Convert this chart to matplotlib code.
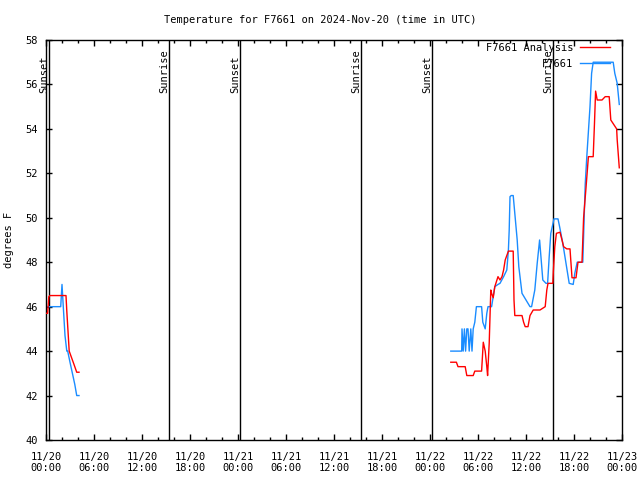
"""Temperature for F7661 on 2024-Nov-20, gnuplot-style plot."""
import matplotlib
matplotlib.use("Agg")
import matplotlib.pyplot as plt
import matplotlib.dates as mdates
import pandas as pd

BASE = pd.Timestamp("2024-11-20 00:00")
RED = "#ff0000"; BLUE = "#1a8cff"

# observations (hours after 11/20 00:00, degrees F)
obs_h_1 = [0.0, 1.84, 2.0, 2.16, 2.375, 2.6, 2.71, 3.0, 3.3, 3.6, 3.84, 4.125]
obs_v_1 = [46.0, 46.0, 47.0, 46.0, 44.7, 44.0, 44.0, 43.5, 43.0, 42.5, 42.0, 42.0]
obs_h_2 = [50.6, 51.96, 52.0, 52.15, 52.3, 52.45, 52.6, 52.75, 52.9, 53.1, 53.25, 53.4,
           53.6, 53.8, 54.45, 54.6, 54.9, 55.1, 55.25, 55.7, 55.9, 56.1, 56.5, 56.75,
           57.2, 57.6, 57.8, 57.9, 58.0, 58.15, 58.4, 58.6, 58.9, 59.1, 59.3, 59.5,
           60.5, 60.7, 61.1, 61.4, 61.7, 62.1, 62.5, 62.7, 62.9, 63.1, 63.5, 64.0,
           64.2, 64.6, 65.0, 65.4, 65.9, 66.1, 66.4, 67.1, 67.4, 67.6, 68.0, 68.2,
           68.4, 70.9, 71.1, 71.4, 71.66]
obs_v_2 = [44.0, 44.0, 45.0, 44.0, 45.0, 44.0, 45.0, 45.0, 44.0, 45.0, 44.0, 45.0,
           45.3, 46.0, 46.0, 45.3, 45.0, 45.7, 46.0, 46.0, 46.45, 46.9, 47.0, 47.05,
           47.35, 47.65, 48.55, 49.45, 50.95, 51.0, 51.0, 50.2, 49.0, 47.8, 47.2, 46.6,
           46.0, 46.0, 46.75, 47.95, 49.0, 47.2, 47.05, 47.05, 48.25, 49.3, 49.95, 49.95,
           49.6, 48.85, 47.95, 47.05, 47.0, 47.5, 48.0, 48.0, 51.5, 52.75, 55.0, 56.5,
           57.0, 57.0, 56.5, 56.05, 55.1]

# analysis
ana_h_1 = [0.0, 0.2, 0.35, 0.5, 2.5, 2.6, 2.8, 2.9, 3.2, 3.5, 3.84, 4.125]
ana_v_1 = [45.7, 45.7, 46.45, 46.5, 46.5, 45.8, 44.6, 44.0, 43.7, 43.4, 43.05, 43.05]
ana_h_2 = [50.6, 51.3, 51.5, 52.4, 52.6, 53.4, 53.6, 54.45, 54.66, 54.9, 55.1, 55.2,
           55.4, 55.6, 55.7, 55.9, 56.1, 56.5, 56.75, 57.0, 57.2, 57.4, 57.8, 58.4,
           58.5, 58.6, 59.5, 59.7, 59.9, 60.25, 60.5, 60.9, 61.75, 62.4, 62.6, 62.75,
           63.35, 63.42, 63.6, 63.8, 64.25, 64.5, 64.7, 65.1, 65.5, 65.75, 66.25, 66.5,
           67.0, 67.2, 67.5, 67.8, 68.4, 68.56, 68.7, 68.9, 69.5, 69.9, 70.4, 70.6,
           71.33, 71.4, 71.66]
ana_v_2 = [43.5, 43.5, 43.3, 43.3, 42.9, 42.9, 43.1, 43.1, 44.4, 44.0, 43.3, 42.9,
           44.35, 46.75, 46.6, 46.4, 46.9, 47.35, 47.2, 47.35, 47.65, 48.1, 48.5, 48.5,
           46.3, 45.6, 45.6, 45.3, 45.1, 45.1, 45.6, 45.85, 45.85, 46.0, 46.75, 47.05,
           47.05, 47.6, 48.7, 49.3, 49.35, 49.0, 48.7, 48.6, 48.6, 47.3, 47.3, 48.0,
           48.0, 50.0, 51.35, 52.75, 52.75, 54.25, 55.7, 55.3, 55.3, 55.45, 55.45, 54.4,
           54.0, 53.5, 52.25]

sun_h = [0.375, 15.375, 24.25, 39.375, 48.25, 63.375]
sun_lbl = ["Sunset", "Sunrise", "Sunset", "Sunrise", "Sunset", "Sunrise"]


def t(hours):
    return [BASE + pd.Timedelta(hours=h) for h in hours]


plt.rcParams["font.family"] = ["DejaVu Sans Mono"]
plt.rcParams["font.size"] = 7.5

fig = plt.figure(figsize=(6.4, 4.8), dpi=100)
ax = fig.add_axes([46 / 640, 40 / 480, 576 / 640, 400 / 480])

for h, lbl in zip(sun_h, sun_lbl):
    x = BASE + pd.Timedelta(hours=h)
    ax.axvline(x, color="black", lw=1, zorder=1)
    ax.text(x, 55.6, lbl, rotation=90, ha="right", va="bottom", fontsize=7.5)

la, = ax.plot(t(ana_h_1), ana_v_1, color=RED, lw=1, zorder=3)
ax.plot(t(ana_h_2), ana_v_2, color=RED, lw=1, zorder=3)
lo, = ax.plot(t(obs_h_1), obs_v_1, color=BLUE, lw=1, zorder=2)
ax.plot(t(obs_h_2), obs_v_2, color=BLUE, lw=1, zorder=2)

ax.set_xlim(BASE, BASE + pd.Timedelta(hours=72))
ax.set_ylim(40, 58)
ax.set_yticks(range(40, 59, 2))
ax.xaxis.set_major_locator(mdates.HourLocator(byhour=range(0, 24, 6)))
ax.xaxis.set_minor_locator(mdates.HourLocator(byhour=range(0, 24, 2)))
ax.xaxis.set_major_formatter(mdates.DateFormatter("%m/%d\n%H:%M"))
ax.tick_params(which="both", direction="in", top=True, right=True, width=1)
ax.tick_params(which="major", length=4.5, pad=6)
ax.tick_params(axis="x", which="major", pad=8.5)
ax.tick_params(which="minor", length=2.5)
for s in ax.spines.values():
    s.set_linewidth(1)

ax.set_ylabel("degrees F", labelpad=8)
fig.text(0.5, 1 - 20 / 480, "Temperature for F7661 on 2024-Nov-20 (time in UTC)",
         ha="center", va="center", fontsize=7.5)

ax.legend([la, lo], ["F7661 Analysis", "F7661"], loc="upper right",
          bbox_to_anchor=(1 - 12 / 576, 1 - 3 / 400), frameon=False,
          markerfirst=False, handlelength=2.9, borderaxespad=0, borderpad=0,
          labelspacing=0.55, handletextpad=0.6, fontsize=7.5)

fig.savefig("out.png", dpi=100, facecolor="white")
